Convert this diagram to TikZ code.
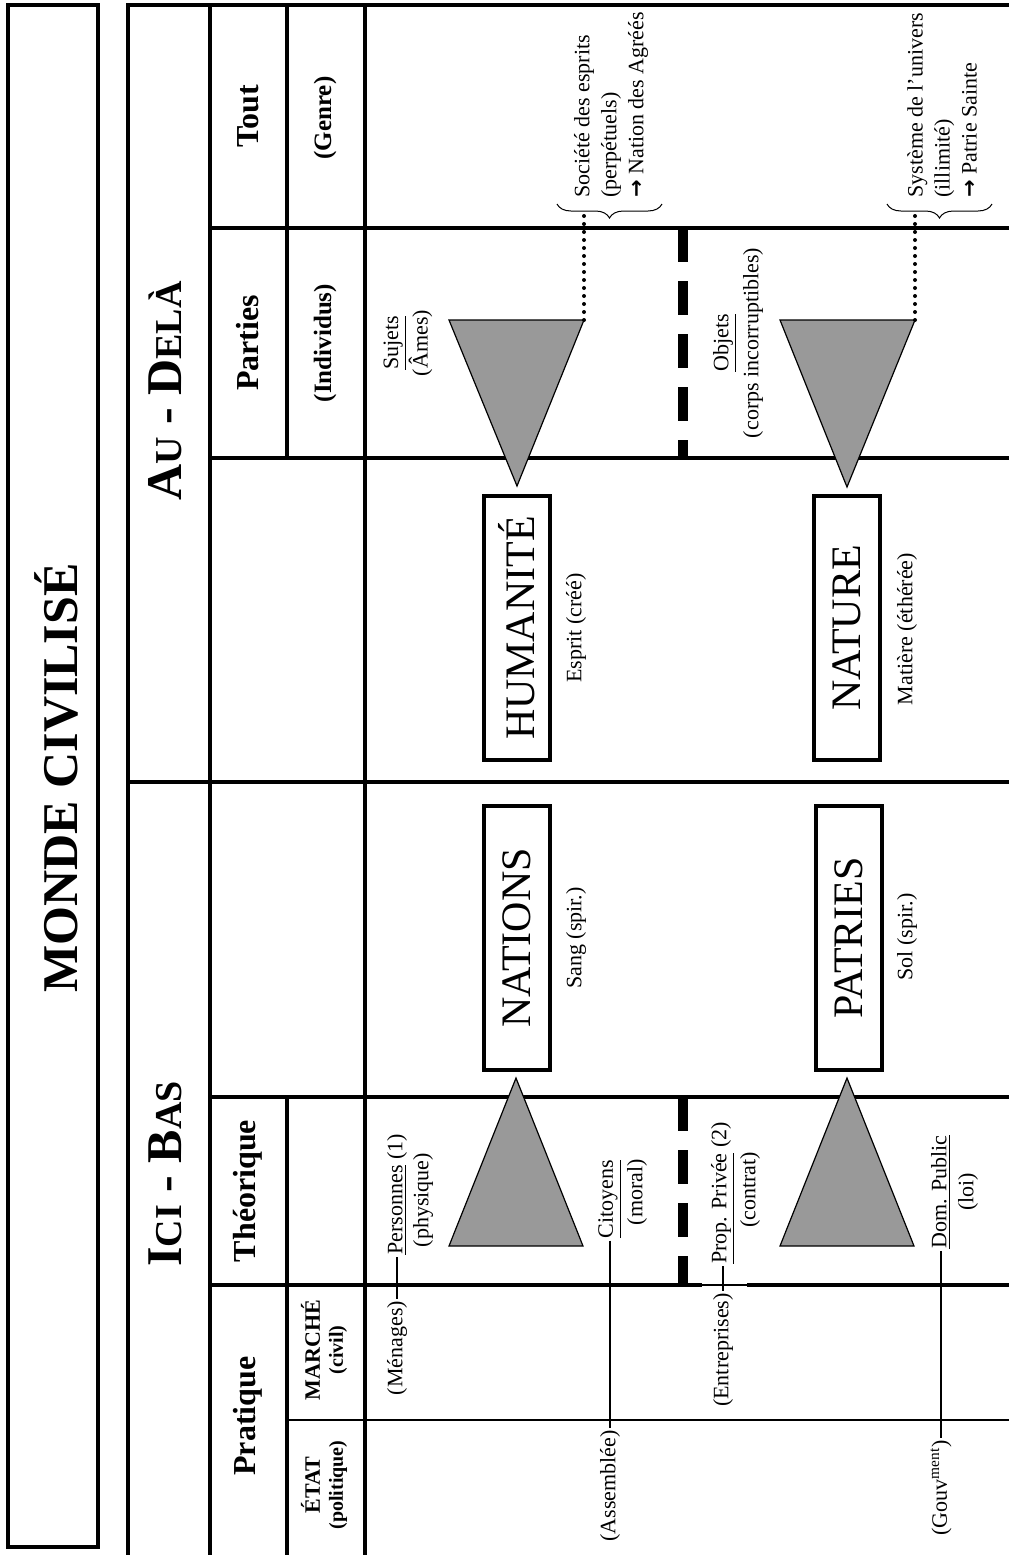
\documentclass[tikz,border=0pt]{standalone}
\usepackage{fontspec}
\setmainfont{Liberation Serif}
\newfontfamily\arrowfont{DejaVu Sans}
\usetikzlibrary{decorations.pathreplacing}
\definecolor{trigray}{RGB}{153,153,153}
\tikzset{gros/.style={line width=2pt}}
\tikzset{fin/.style={line width=0.7pt}}
\tikzset{tiret/.style={line width=5pt,dash pattern=on 17pt off 9.5pt}}
\tikzset{tri/.style={fill=trigray,draw=black,line width=0.6pt}}
\tikzset{pts/.style={line width=2pt,dash pattern=on 0pt off 4pt,line cap=round}}
\tikzset{acc/.style={decorate,decoration={brace,amplitude=7pt},line width=0.5pt}}
\tikzset{bloc/.style={draw,line width=2pt,rotate=90,minimum width=132pt,minimum height=33pt,inner sep=0pt,font=\fontsize{21}{21}\selectfont}}
\tikzset{titre/.style={rotate=90,font=\bfseries\fontsize{25}{25}\selectfont}}
\tikzset{ent/.style={rotate=90,font=\bfseries\fontsize{16}{16}\selectfont}}
\tikzset{sous/.style={rotate=90,font=\bfseries\fontsize{12.5}{12.5}\selectfont}}
\tikzset{etage/.style={rotate=90,align=center,font=\bfseries\fontsize{11}{11.5}\selectfont}}
\tikzset{lab/.style={rotate=90,inner sep=1pt,font=\fontsize{11}{13.5}\selectfont}}
\newcommand{\petit}[1]{{\fontsize{19}{19}\selectfont #1}}
\newcommand{\fl}{{\arrowfont\bfseries\fontsize{10.5}{10.5}\selectfont →}}
\begin{document}
\begin{tikzpicture}[x=0.5pt,y=-0.5pt]
    \useasboundingbox (0,0) rectangle (1009,1555);
    % cadre du titre
    \draw[gros] (8,5) rectangle (98,1547);
    \node[titre] (monde) at (56,778) {MONDE CIVILISÉ};
    % grille
    \draw[gros] (128,1555) -- (128,5) -- (1009,5);
    \draw[gros] (210,5) -- (210,1555);
    \draw[gros] (365,5) -- (365,1555);
    \draw[gros] (287,5) -- (287,458);
    \draw[gros] (287,1097) -- (287,1555);
    \foreach \y in {228,458,1097} \draw[gros] (210,\y) -- (1009,\y);
    \draw[gros] (128,782) -- (1009,782);
    \draw[gros] (210,1285) -- (702,1285) (747,1285) -- (1009,1285);
    \draw[fin] (702,1285) -- (747,1285);
    \draw[fin] (287,1420) -- (1009,1420);
    \draw[tiret] (683,228) -- (683,458);
    \draw[tiret] (683,1097) -- (683,1285);
    % en-tetes
    \node[titre] (audela) at (165,391) {A\petit{U} - D\petit{ELÀ}};
    \node[titre] (icibas) at (165,1174) {I\petit{CI} - B\petit{AS}};
    \node[ent] (tout) at (248,116) {Tout};
    \node[sous] (genre) at (325,118) {(Genre)};
    \node[ent] (parties) at (248,343) {Parties};
    \node[sous] (indiv) at (325,343) {(Individus)};
    \node[ent] (theo) at (248,1191) {Théorique};
    \node[ent] (prat) at (248,1416) {Pratique};
    \node[etage] (marche) at (324,1350) {MARCHÉ\\{\fontsize{10}{11.5}\selectfont (civil)}};
    \node[etage] (etat) at (324,1485) {ÉTAT\\{\fontsize{10}{11.5}\selectfont (politique)}};
    % triangles
    \coordinate (s1) at (584,320);
    \coordinate (s2) at (915,320);
    \draw[tri] (449,320) -- (s1) -- (517,486) -- cycle;
    \draw[tri] (780,320) -- (s2) -- (847,487) -- cycle;
    \draw[tri] (449,1246) -- (583,1246) -- (516,1078) -- cycle;
    \draw[tri] (780,1246) -- (914,1246) -- (847,1078) -- cycle;
    % au-dela
    \node[lab,align=center] (sujets) at (408,343) {\underline{Sujets}\\(Âmes)};
    \node[lab,align=center,font=\fontsize{11}{15}\selectfont] (objets) at (738,343) {\underline{Objets}\\(corps incorruptibles)};
    \node[lab,align=left,anchor=west] (societe) at (611,200) {Société des esprits\\(perpétuels)\\\fl\ Nation des Agréés};
    \node[lab,align=left,anchor=west] (systeme) at (942,200) {Système de l’univers\\(illimité)\\\fl\ Patrie Sainte};
    \coordinate (b1) at (584,216);
    \coordinate (b2) at (915,216);
    \draw[pts] (s1) -- (b1);
    \draw[pts] (s2) -- (b2);
    \draw[acc] (662,204) -- (557,204);
    \draw[acc] (992,204) -- (887,204);
    \node[bloc] (humanite) at (517,628) {HUMANITÉ};
    \node[bloc] (nature) at (847,628) {NATURE};
    \node[lab] (esprit) at (576,628) {Esprit (créé)};
    \node[lab] (matiere) at (907,629) {Matière (éthérée)};
    % ici-bas
    \node[bloc] (nations) at (517,938) {NATIONS};
    \node[bloc] (patries) at (849,938) {PATRIES};
    \node[lab] (sang) at (576,938) {Sang (spir.)};
    \node[lab] (sol) at (907,937) {Sol (spir.)};
    \node[lab,anchor=west] (pers) at (397,1257) {\underline{Personnes} (1)};
    \node[lab] (phys) at (423,1200) {(physique)};
    \node[lab] (menages) at (397,1348) {(Ménages)};
    \node[lab] (citoyens) at (610,1199) {\underline{Citoyens}};
    \node[lab] (moral) at (637,1192) {(moral)};
    \node[lab] (assemblee) at (610,1486) {(Assemblée)};
    \node[lab] (prop) at (723,1193) {\underline{Prop. Privée} (2)};
    \node[lab] (contrat) at (750,1190) {(contrat)};
    \node[lab] (entr) at (723,1350) {(Entreprises)};
    \node[lab] (dom) at (941,1192) {\underline{Dom. Public}};
    \node[lab] (loi) at (968,1192) {(loi)};
    \node[lab] (gouv) at (941,1488) {(Gouv\textsuperscript{ment})};
    \draw[fin] (menages.east) -- (pers.west);
    \draw[fin] (citoyens.west) -- (assemblee.east);
    \draw[fin] (entr.east) -- (prop.west);
    \draw[fin] (dom.west) -- (gouv.east);
\end{tikzpicture}
\end{document}
